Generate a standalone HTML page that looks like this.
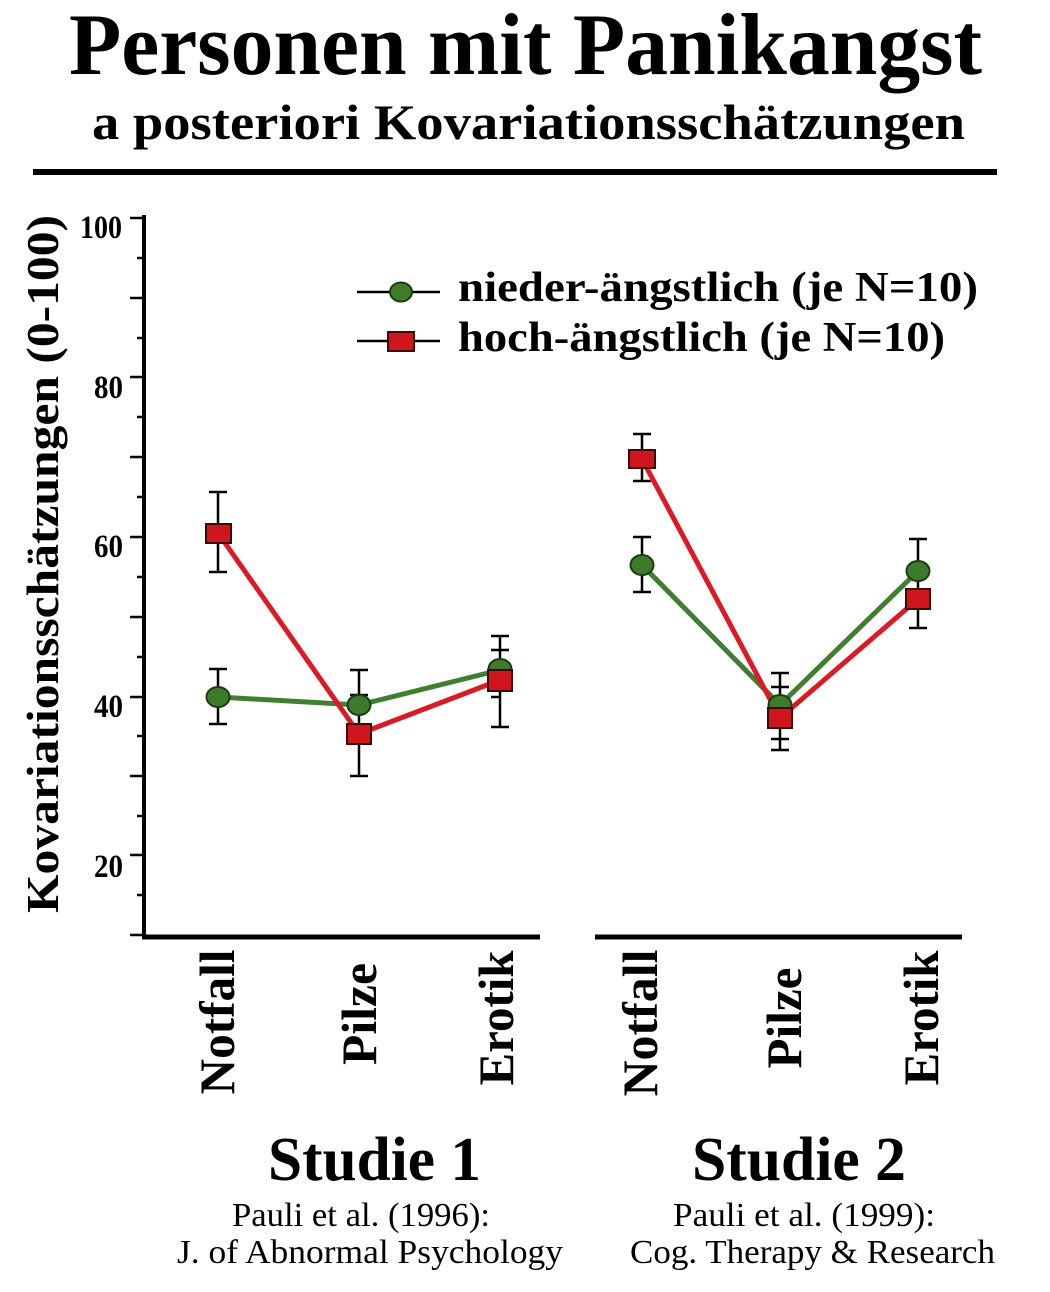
<!DOCTYPE html>
<html>
<head>
<meta charset="utf-8">
<style>
  html,body{margin:0;padding:0;background:#fff;}
  svg{display:block;}
  .b{font-family:"Liberation Serif","DejaVu Serif",serif;font-weight:bold;fill:#000;}
  .r{font-family:"Liberation Serif","DejaVu Serif",serif;font-weight:normal;fill:#000;}
</style>
</head>
<body>
<svg width="1050" height="1292" viewBox="0 0 1050 1292" xmlns="http://www.w3.org/2000/svg">
  <rect x="0" y="0" width="1050" height="1292" fill="#ffffff"/>

  <!-- Title -->
  <text class="b" x="69" y="74" font-size="88" textLength="913" lengthAdjust="spacingAndGlyphs">Personen mit Panikangst</text>
  <text class="b" x="92" y="139" font-size="50" textLength="873" lengthAdjust="spacingAndGlyphs">a posteriori Kovariationsschätzungen</text>
  <line x1="33" y1="172" x2="997" y2="172" stroke="#000" stroke-width="6"/>

  <!-- Y axis title -->
  <text class="b" transform="translate(58,913) rotate(-90)" x="0" y="0" font-size="46" textLength="698" lengthAdjust="spacingAndGlyphs">Kovariationsschätzungen (0-100)</text>

  <!-- Y axis -->
  <line x1="144" y1="215" x2="144" y2="939" stroke="#000" stroke-width="4"/>
  <g stroke="#000" stroke-width="2.5">
    <line x1="130" y1="218" x2="144" y2="218"/>
    <line x1="137" y1="258" x2="144" y2="258"/>
    <line x1="130" y1="298" x2="144" y2="298"/>
    <line x1="137" y1="338" x2="144" y2="338"/>
    <line x1="130" y1="377" x2="144" y2="377"/>
    <line x1="137" y1="417" x2="144" y2="417"/>
    <line x1="130" y1="457" x2="144" y2="457"/>
    <line x1="137" y1="497" x2="144" y2="497"/>
    <line x1="130" y1="537" x2="144" y2="537"/>
    <line x1="137" y1="577" x2="144" y2="577"/>
    <line x1="130" y1="617" x2="144" y2="617"/>
    <line x1="137" y1="657" x2="144" y2="657"/>
    <line x1="130" y1="697" x2="144" y2="697"/>
    <line x1="137" y1="736" x2="144" y2="736"/>
    <line x1="130" y1="776" x2="144" y2="776"/>
    <line x1="137" y1="816" x2="144" y2="816"/>
    <line x1="130" y1="855" x2="144" y2="855"/>
    <line x1="137" y1="895" x2="144" y2="895"/>
    <line x1="130" y1="935" x2="144" y2="935"/>
  </g>
  <text class="b" x="80" y="238" font-size="33" textLength="42" lengthAdjust="spacingAndGlyphs">100</text>
  <text class="b" x="94" y="398" font-size="33" textLength="29" lengthAdjust="spacingAndGlyphs">80</text>
  <text class="b" x="94" y="557" font-size="33" textLength="29" lengthAdjust="spacingAndGlyphs">60</text>
  <text class="b" x="94" y="717" font-size="33" textLength="29" lengthAdjust="spacingAndGlyphs">40</text>
  <text class="b" x="94" y="877" font-size="33" textLength="29" lengthAdjust="spacingAndGlyphs">20</text>

  <!-- X axes -->
  <line x1="142" y1="937" x2="540" y2="937" stroke="#000" stroke-width="5"/>
  <line x1="595" y1="937" x2="962" y2="937" stroke="#000" stroke-width="5"/>

  <!-- Legend -->
  <line x1="357" y1="292" x2="440" y2="292" stroke="#000" stroke-width="2.5"/>
  <ellipse cx="401" cy="292" rx="11" ry="9.5" fill="#3f7d2c" stroke="#1c3d12" stroke-width="2"/>
  <line x1="357" y1="341" x2="440" y2="341" stroke="#000" stroke-width="2.5"/>
  <rect x="388" y="332" width="26" height="19" fill="#d0161d" stroke="#3b0b0b" stroke-width="2"/>
  <text class="b" x="458" y="301" font-size="42" textLength="520" lengthAdjust="spacingAndGlyphs">nieder-ängstlich (je N=10)</text>
  <text class="b" x="458" y="351" font-size="42" textLength="487" lengthAdjust="spacingAndGlyphs">hoch-ängstlich (je N=10)</text>

  <!-- Error bars -->
  <g stroke="#000" stroke-width="2.5" fill="none">
    <line x1="218" y1="669" x2="218" y2="724"/><line x1="209" y1="669" x2="227" y2="669"/><line x1="209" y1="724" x2="227" y2="724"/>
    <line x1="218" y1="492" x2="218" y2="572"/><line x1="209" y1="492" x2="227" y2="492"/><line x1="209" y1="572" x2="227" y2="572"/>
    <line x1="359" y1="670" x2="359" y2="776"/><line x1="350" y1="670" x2="368" y2="670"/><line x1="350" y1="695" x2="368" y2="695"/><line x1="350" y1="776" x2="368" y2="776"/>
    <line x1="500" y1="636" x2="500" y2="727"/><line x1="491" y1="636" x2="509" y2="636"/><line x1="491" y1="650" x2="509" y2="650"/><line x1="491" y1="697" x2="500" y2="697"/><line x1="491" y1="727" x2="509" y2="727"/>
    <line x1="642" y1="434" x2="642" y2="481"/><line x1="633" y1="434" x2="651" y2="434"/><line x1="633" y1="481" x2="651" y2="481"/>
    <line x1="642" y1="537" x2="642" y2="592"/><line x1="633" y1="537" x2="651" y2="537"/><line x1="633" y1="592" x2="651" y2="592"/>
    <line x1="780" y1="673" x2="780" y2="750"/><line x1="771" y1="673" x2="789" y2="673"/><line x1="771" y1="687" x2="789" y2="687"/><line x1="771" y1="739" x2="789" y2="739"/><line x1="771" y1="750" x2="789" y2="750"/>
    <line x1="918" y1="539" x2="918" y2="628"/><line x1="909" y1="539" x2="927" y2="539"/><line x1="909" y1="628" x2="927" y2="628"/>
  </g>

  <!-- Lines -->
  <polyline points="218,697 359,705 500,670" fill="none" stroke="#3f7f2f" stroke-width="5"/>
  <polyline points="642,565 780,705 918,571" fill="none" stroke="#3f7f2f" stroke-width="5"/>
  <polyline points="218,533 359,734 500,680" fill="none" stroke="#dc1a24" stroke-width="5"/>
  <polyline points="642,459 780,718 918,599" fill="none" stroke="#dc1a24" stroke-width="5"/>

  <!-- Green markers -->
  <g fill="#3d7a2a" stroke="#1c3d12" stroke-width="2">
    <ellipse cx="218" cy="697" rx="11.5" ry="10"/>
    <ellipse cx="359" cy="705" rx="11.5" ry="10"/>
    <ellipse cx="500" cy="669" rx="11.5" ry="10"/>
    <ellipse cx="642" cy="565" rx="11.5" ry="10"/>
    <ellipse cx="780" cy="705" rx="11.5" ry="10"/>
    <ellipse cx="918" cy="571" rx="11.5" ry="10"/>
  </g>
  <!-- Red markers -->
  <g fill="#cf161d" stroke="#3b0b0b" stroke-width="2">
    <rect x="206" y="524" width="25" height="19"/>
    <rect x="347" y="724" width="24" height="20"/>
    <rect x="488" y="670" width="24" height="21"/>
    <rect x="629" y="450" width="26" height="18"/>
    <rect x="768" y="708" width="24" height="20"/>
    <rect x="906" y="589" width="24" height="20"/>
  </g>

  <!-- Category labels -->
  <text class="b" transform="translate(234,1022) rotate(-90)" x="0" y="0" font-size="50" text-anchor="middle" textLength="145" lengthAdjust="spacingAndGlyphs">Notfall</text>
  <text class="b" transform="translate(376,1014) rotate(-90)" x="0" y="0" font-size="50" text-anchor="middle" textLength="102" lengthAdjust="spacingAndGlyphs">Pilze</text>
  <text class="b" transform="translate(513,1018) rotate(-90)" x="0" y="0" font-size="50" text-anchor="middle" textLength="135" lengthAdjust="spacingAndGlyphs">Erotik</text>
  <text class="b" transform="translate(657,1023) rotate(-90)" x="0" y="0" font-size="50" text-anchor="middle" textLength="147" lengthAdjust="spacingAndGlyphs">Notfall</text>
  <text class="b" transform="translate(801,1018) rotate(-90)" x="0" y="0" font-size="50" text-anchor="middle" textLength="101" lengthAdjust="spacingAndGlyphs">Pilze</text>
  <text class="b" transform="translate(938,1018) rotate(-90)" x="0" y="0" font-size="50" text-anchor="middle" textLength="135" lengthAdjust="spacingAndGlyphs">Erotik</text>

  <!-- Study labels -->
  <text class="b" x="268" y="1180" font-size="62" textLength="213" lengthAdjust="spacingAndGlyphs">Studie 1</text>
  <text class="b" x="692" y="1180" font-size="62" textLength="214" lengthAdjust="spacingAndGlyphs">Studie 2</text>

  <!-- Citations -->
  <text class="r" x="232" y="1226" font-size="34" textLength="258" lengthAdjust="spacingAndGlyphs">Pauli et al. (1996):</text>
  <text class="r" x="177" y="1263" font-size="34" textLength="386" lengthAdjust="spacingAndGlyphs">J. of Abnormal Psychology</text>
  <text class="r" x="673" y="1226" font-size="34" textLength="262" lengthAdjust="spacingAndGlyphs">Pauli et al. (1999):</text>
  <text class="r" x="630" y="1263" font-size="34" textLength="365" lengthAdjust="spacingAndGlyphs">Cog. Therapy &amp; Research</text>
</svg>
</body>
</html>
